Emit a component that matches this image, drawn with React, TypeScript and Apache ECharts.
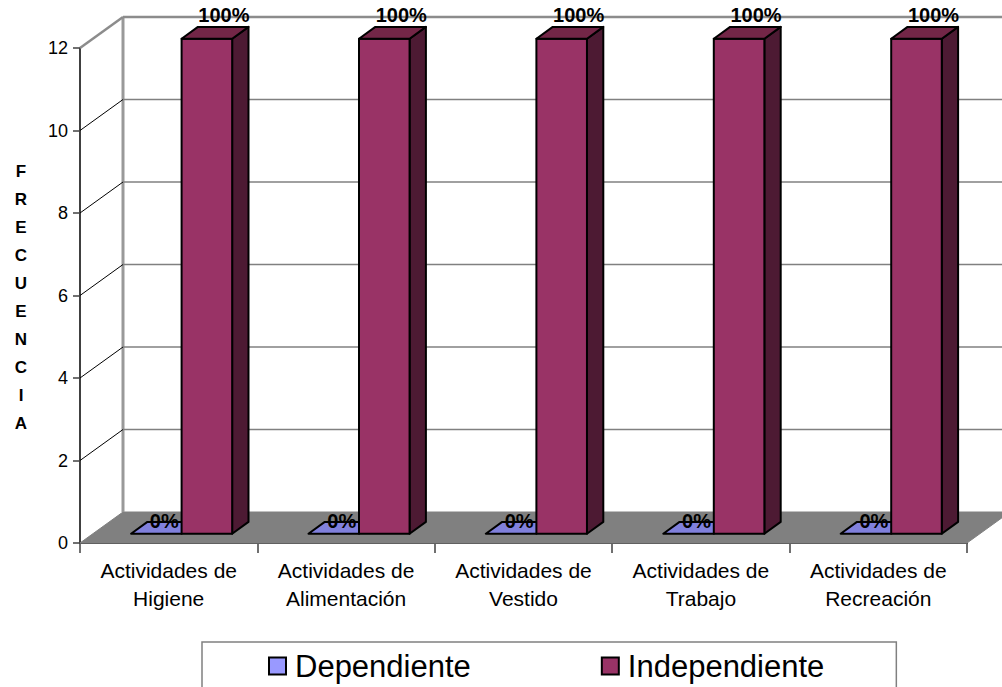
import React, { useEffect, useRef } from "react";
import * as echarts from "echarts";

// Chart data
const categories = [
  "Actividades de\nHigiene",
  "Actividades de\nAlimentación",
  "Actividades de\nVestido",
  "Actividades de\nTrabajo",
  "Actividades de\nRecreación",
];
const seriesNames = ["Dependiente", "Independiente"];
const dependiente = [0, 0, 0, 0, 0];
const independiente = [12, 12, 12, 12, 12];
const yTicks = [0, 2, 4, 6, 8, 10, 12];

const FONT = "'Liberation Sans', Arial, sans-serif";

// Oblique 3D projection: full depth of the plot box
const DX = 43;
const DY = -31;
// Bars sit between these depth fractions
const BAR_FRONT = 0.3;
const BAR_BACK = 0.68;
const BAR_RATIO = 0.285; // bar width as fraction of category width

const pct = (v: number, i: number) => {
  const total = dependiente[i] + independiente[i];
  return total ? Math.round((v / total) * 100) + "%" : "0%";
};

type Palette = { front: string; top: string; side: string };
const palettes: Palette[] = [
  { front: "#9999FF", top: "#8080DC", side: "#6666CC" },
  { front: "#993366", top: "#732647", side: "#4D1A33" },
];

function makeBarRenderer(slot: number, palette: Palette, labelOff: [number, number], zeroLabelOff: [number, number]) {
  return (params: any, api: any) => {
    const ci = api.value(0);
    const v = api.value(1);
    const base = api.coord([ci, 0]);
    const top = api.coord([ci, v]);
    const catW = api.size([1, 0])[0];
    const bw = catW * BAR_RATIO;
    const x0 = base[0] + slot * bw;
    const fx = DX * BAR_FRONT, fy = DY * BAR_FRONT;
    const bx = DX * BAR_BACK, by = DY * BAR_BACK;
    const yb = base[1];
    const yt = top[1];
    const stroke = { stroke: "#000", lineWidth: 2, lineJoin: "round" };
    const children: any[] = [];
    if (yb - yt > 0.5) {
      children.push({
        type: "polygon",
        shape: { points: [[x0 + bw + fx, yt + fy], [x0 + bw + bx, yt + by], [x0 + bw + bx, yb + by], [x0 + bw + fx, yb + fy]] },
        style: { fill: palette.side, ...stroke },
      });
      children.push({
        type: "rect",
        shape: { x: x0 + fx, y: yt + fy, width: bw, height: yb - yt },
        style: { fill: palette.front, ...stroke },
      });
    }
    children.push({
      type: "polygon",
      shape: { points: [[x0 + fx, yt + fy], [x0 + bw + fx, yt + fy], [x0 + bw + bx, yt + by], [x0 + bx, yt + by]] },
      style: { fill: palette.top, ...stroke },
    });
    const off = v > 0 ? labelOff : zeroLabelOff;
    children.push({
      type: "text",
      z2: 10,
      style: {
        text: pct(v, ci),
        x: x0 + fx + bw / 2 + off[0],
        y: yt + fy + off[1],
        align: "center",
        verticalAlign: "middle",
        fontFamily: FONT,
        fontWeight: "bold",
        fontSize: 20,
        fill: "#000",
      },
    });
    return { type: "group", children };
  };
}

// Side wall, back wall grid lines and the grey floor
function renderFrame(params: any, api: any) {
  const c0 = api.coord([0, 0]);
  const catW = api.size([1, 0])[0];
  const left = c0[0] - catW / 2;
  const right = left + categories.length * catW;
  const y0 = c0[1];
  const children: any[] = [];
  children.push({
    type: "polygon",
    shape: { points: [[left, y0], [right, y0], [right + DX, y0 + DY], [left + DX, y0 + DY]] },
    style: { fill: "#808080", stroke: "#808080", lineWidth: 1 },
  });
  const yTop = api.coord([0, yTicks[yTicks.length - 1]])[1];
  children.push({
    type: "line",
    shape: { x1: left + DX, y1: y0 + DY, x2: left + DX, y2: yTop + DY },
    style: { stroke: "#999999", lineWidth: 3 },
  });
  yTicks.forEach((t, i) => {
    const y = api.coord([0, t])[1];
    const isTop = i === yTicks.length - 1;
    if (t > 0) {
      children.push({
        type: "line",
        shape: { x1: left + DX, y1: y + DY, x2: right + DX, y2: y + DY },
        style: { stroke: isTop ? "#8c8c8c" : "#808080", lineWidth: isTop ? 2.5 : 1.5 },
      });
      children.push({
        type: "line",
        shape: { x1: left, y1: y, x2: left + DX, y2: y + DY },
        style: { stroke: isTop ? "#8c8c8c" : "#000", lineWidth: isTop ? 2.5 : 1 },
      });
    }
  });
  return { type: "group", children };
}

export default function App() {
  const ref = useRef<HTMLDivElement>(null);
  useEffect(() => {
    if (!ref.current) return;
    const chart = echarts.init(ref.current, undefined, { renderer: "svg" });
    chart.setOption({
      animation: false,
      backgroundColor: "#fff",
      grid: { left: 80, right: 35, top: 48, bottom: 144 },
      xAxis: {
        type: "category",
        data: categories,
        axisLine: { show: true, lineStyle: { color: "#404040", width: 2 } },
        axisTick: { show: true, length: 10, lineStyle: { color: "#404040", width: 1.5 } },
        axisLabel: {
          interval: 0,
          margin: 13,
          fontFamily: FONT,
          fontSize: 21,
          lineHeight: 28,
          color: "#000",
        },
        splitLine: { show: false },
      },
      yAxis: {
        type: "value",
        min: 0,
        max: 12,
        interval: 2,
        axisLine: { show: true, lineStyle: { color: "#404040", width: 2 } },
        axisTick: { show: true, length: 7, lineStyle: { color: "#404040", width: 1.5 } },
        axisLabel: { margin: 12, fontFamily: FONT, fontSize: 18, color: "#000" },
        splitLine: { show: false },
      },
      legend: {
        left: 202,
        top: 642,
        padding: [7, 72, 40, 66],
        itemGap: 130,
        itemWidth: 17,
        itemHeight: 17,
        borderColor: "#808080",
        borderWidth: 1.5,
        selectedMode: false,
        textStyle: { fontFamily: FONT, fontSize: 31, lineHeight: 34, color: "#000", padding: [0, 0, 0, 4] },
        data: seriesNames.map((n, i) => ({
          name: n,
          icon: "rect",
          itemStyle: { color: palettes[i].front, borderColor: "#000", borderWidth: 2 },
        })),
      },
      graphic: [
        {
          type: "text",
          x: 21,
          y: 297,
          style: {
            text: "F\nR\nE\nC\nU\nE\nN\nC\nI\nA",
            fontFamily: FONT,
            fontWeight: "bold",
            fontSize: 17,
            lineHeight: 28,
            align: "center",
            verticalAlign: "middle",
            fill: "#000",
          },
        },
      ],
      series: [
        {
          type: "custom",
          name: "frame",
          silent: true,
          z: 1,
          renderItem: renderFrame,
          data: [[0, 0]],
          encode: { x: 0, y: 1 },
        },
        {
          type: "custom",
          name: seriesNames[0],
          z: 2,
          itemStyle: { color: palettes[0].front },
          renderItem: makeBarRenderer(-1, palettes[0], [17, -24], [8, -13]),
          data: dependiente.map((v, i) => [i, v]),
          encode: { x: 0, y: 1 },
        },
        {
          type: "custom",
          name: seriesNames[1],
          z: 3,
          itemStyle: { color: palettes[1].front },
          renderItem: makeBarRenderer(0, palettes[1], [17, -24], [8, -13]),
          data: independiente.map((v, i) => [i, v]),
          encode: { x: 0, y: 1 },
        },
      ],
    });
    return () => chart.dispose();
  }, []);
  return (
    <div
      ref={ref}
      style={{ position: "absolute", left: 0, top: 0, width: 1002, height: 687 }}
    />
  );
}
